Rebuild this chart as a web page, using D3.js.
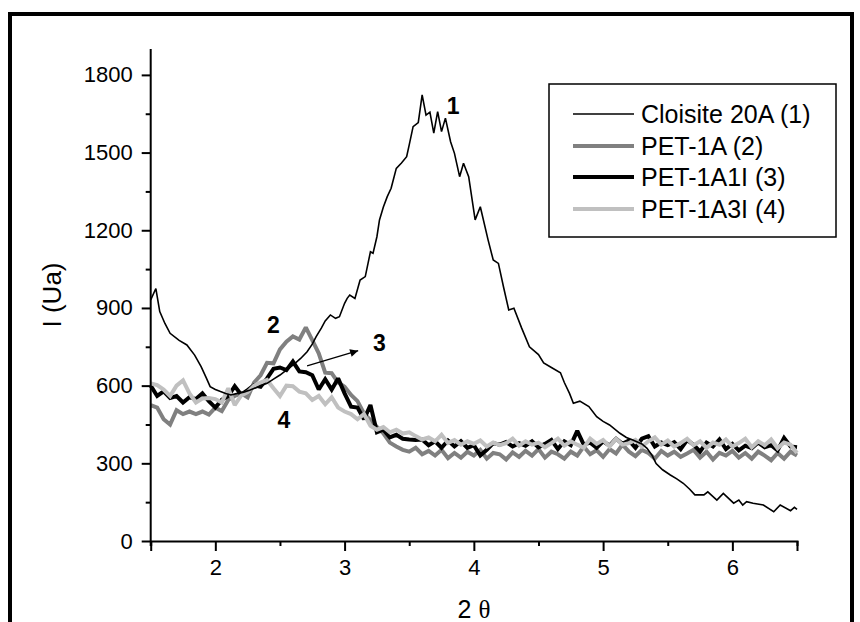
<!DOCTYPE html>
<html>
<head>
<meta charset="utf-8">
<script src="https://cdn.jsdelivr.net/npm/d3@7"></script>
<style>
  html, body { margin: 0; padding: 0; background: #fff; }
  svg { display: block; }
  text { font-family: "Liberation Sans", Arial, sans-serif; fill: #000; }
</style>
</head>
<body>
<svg id="chart" width="860" height="622"></svg>
<script>
// ---------- DATA ----------
const seriesNames = ["Cloisite 20A (1)", "PET-1A (2)", "PET-1A1I (3)", "PET-1A3I (4)"];

// Cloisite 20A (1)
const cloisiteTheta = [1.50,1.54,1.57,1.61,1.65,1.72,1.78,1.84,1.89,1.93,1.96,2.00,2.04,2.08,2.12,2.17,2.22,2.27,2.33,2.40,2.45,2.50,2.55,2.61,2.66,2.71,2.75,2.78,2.82,2.85,2.89,2.93,2.96,3.00,3.02,3.04,3.08,3.12,3.16,3.20,3.22,3.25,3.27,3.30,3.33,3.36,3.40,3.44,3.48,3.50,3.53,3.57,3.60,3.63,3.66,3.69,3.72,3.75,3.78,3.82,3.85,3.89,3.92,3.96,4.01,4.05,4.11,4.15,4.19,4.23,4.27,4.31,4.37,4.43,4.50,4.54,4.60,4.67,4.70,4.74,4.77,4.82,4.89,4.95,5.00,5.05,5.13,5.18,5.23,5.30,5.34,5.38,5.41,5.46,5.52,5.57,5.62,5.67,5.71,5.78,5.81,5.88,5.93,6.01,6.05,6.08,6.11,6.16,6.24,6.32,6.37,6.45,6.48,6.50];
const cloisiteI = [931,975,886,840,802,775,757,718,673,630,596,585,577,570,564,570,575,583,595,609,625,641,660,683,705,731,760,789,822,850,873,860,866,918,937,950,937,1008,1021,1117,1111,1175,1240,1290,1330,1362,1439,1460,1484,1530,1600,1616,1723,1645,1656,1575,1658,1581,1633,1542,1497,1407,1459,1407,1240,1291,1163,1085,1072,980,892,899,822,750,720,688,670,650,612,570,532,540,519,480,462,448,416,400,390,375,358,330,299,275,255,240,223,200,178,178,190,158,184,146,158,139,152,146,139,113,139,117,130,122];

// common 2θ grid for the PET samples
const petTheta = [1.50,1.55,1.60,1.65,1.70,1.75,1.80,1.85,1.90,1.95,2.00,2.05,2.10,2.15,2.20,2.25,2.30,2.35,2.40,2.45,2.50,2.55,2.60,2.65,2.70,2.75,2.80,2.85,2.90,2.95,3.00,3.05,3.10,3.15,3.20,3.25,3.30,3.35,3.40,3.45,3.50,3.55,3.60,3.65,3.70,3.75,3.80,3.85,3.90,3.95,4.00,4.05,4.10,4.15,4.20,4.25,4.30,4.35,4.40,4.45,4.50,4.55,4.60,4.65,4.70,4.75,4.80,4.85,4.90,4.95,5.00,5.05,5.10,5.15,5.20,5.25,5.30,5.35,5.40,5.45,5.50,5.55,5.60,5.65,5.70,5.75,5.80,5.85,5.90,5.95,6.00,6.05,6.10,6.15,6.20,6.25,6.30,6.35,6.40,6.45,6.50];

// PET-1A (2)
const pet1A = [525,515,470,450,505,490,500,490,500,488,515,502,545,560,570,555,612,640,688,686,740,770,790,778,825,776,725,650,648,612,596,564,540,493,467,441,416,380,365,352,345,360,335,348,330,352,320,340,322,345,330,352,318,340,335,315,342,325,348,330,355,322,345,335,318,345,330,365,335,350,325,355,338,372,345,328,352,340,318,348,330,345,325,338,352,322,345,315,340,330,348,322,340,318,345,330,312,340,318,345,330];

// PET-1A1I (3)
const pet1A1I = [600,560,578,552,560,535,555,548,570,540,515,545,560,598,565,583,602,596,628,665,670,660,693,655,652,640,585,625,585,628,570,519,515,470,525,420,430,400,410,395,392,390,392,370,385,360,388,365,385,360,370,330,352,378,372,382,365,378,368,385,362,375,390,355,385,370,425,372,380,360,385,368,395,375,388,360,395,405,365,380,370,382,355,390,372,345,380,365,392,355,375,350,368,358,380,362,370,350,398,365,362];

// PET-1A3I (4)
const pet1A3I = [609,602,585,560,600,620,570,535,550,552,548,535,590,525,562,575,600,612,622,590,560,600,598,577,570,545,560,528,555,515,500,490,470,490,445,430,440,420,430,415,420,405,392,400,385,410,378,390,372,385,375,388,365,380,370,378,395,368,385,372,380,362,378,395,368,385,372,360,395,375,390,365,395,372,378,390,365,385,400,372,388,365,378,395,370,385,360,380,372,392,365,378,395,362,385,370,392,358,380,372,340];

// axis ticks
const xTicks = [2, 3, 4, 5, 6];
const xMinorTicks = [1.5, 2.5, 3.5, 4.5, 5.5, 6.5];
const yTicks = [0, 300, 600, 900, 1200, 1500, 1800];
const yMinorTicks = [150, 450, 750, 1050, 1350, 1650];

// curve labels (data coordinates)
const curveLabels = ["1", "2", "3", "4"];
const curveLabelTheta = [3.84, 2.45, 3.27, 2.53];
const curveLabelI = [1650, 805, 732, 437];

// ---------- CHART ----------
const svg = d3.select("#chart");
const colors = ["#000000", "#808080", "#000000", "#c0c0c0"];
const widths = [1.6, 4, 4, 4];

const x = d3.scaleLinear().domain([1.5, 6.5]).range([150.7, 797]);
const y = d3.scaleLinear().domain([0, 1900]).range([541, 49]);

// outer frame
svg.append("rect")
  .attr("x", 10).attr("y", 14).attr("width", 842).attr("height", 650)
  .attr("fill", "none").attr("stroke", "#000").attr("stroke-width", 4);

// series
const line = d3.line().x(d => x(d[0])).y(d => y(d[1]));
const zip = (xs, ys) => xs.map((v, i) => [v, ys[i]]);
const series = [
  zip(cloisiteTheta, cloisiteI),
  zip(petTheta, pet1A),
  zip(petTheta, pet1A1I),
  zip(petTheta, pet1A3I)
];
const drawOrder = [1, 2, 3, 0];
drawOrder.forEach(i => {
  svg.append("path")
    .datum(series[i])
    .attr("d", line)
    .attr("fill", "none")
    .attr("stroke", colors[i])
    .attr("stroke-width", widths[i])
    .attr("stroke-linejoin", "miter")
    .attr("stroke-miterlimit", 2);
});

// x axis
const gx = svg.append("g").attr("transform", `translate(0,${y(0)})`);
gx.call(d3.axisBottom(x).tickValues(xTicks).tickSize(10).tickPadding(8).tickFormat(d3.format("d")));
gx.append("g").call(d3.axisBottom(x).tickValues(xMinorTicks).tickSize(5).tickFormat(""))
  .select(".domain").remove();
gx.selectAll(".domain").attr("stroke-width", 2);
gx.selectAll("line").attr("stroke-width", 2);
gx.selectAll("text").style("font-size", "22px").style("font-family", "'Liberation Sans', Arial, sans-serif");

// y axis
const gy = svg.append("g").attr("transform", `translate(${x(1.5)},0)`);
gy.call(d3.axisLeft(y).tickValues(yTicks).tickSize(9).tickPadding(9).tickFormat(d3.format("d")));
gy.append("g").call(d3.axisLeft(y).tickValues(yMinorTicks).tickSize(5).tickFormat(""))
  .select(".domain").remove();
gy.selectAll(".domain").attr("stroke-width", 2).attr("d", `M0,${y(1900)}V${y(0)+5}`);
gy.selectAll("line").attr("stroke-width", 2);
gy.selectAll("text").style("font-size", "22px").style("font-family", "'Liberation Sans', Arial, sans-serif");

// axis titles
const xt = svg.append("text")
  .attr("x", 474).attr("y", 618)
  .attr("text-anchor", "middle")
  .style("font-size", "25px");
xt.append("tspan").text("2 ");
xt.append("tspan").style("font-family", "'Liberation Serif', 'Times New Roman', serif").text("θ");

svg.append("text")
  .attr("transform", "translate(52,295) rotate(-90)")
  .attr("text-anchor", "middle")
  .attr("dominant-baseline", "central")
  .style("font-size", "26px")
  .text("I (Ua)");

// curve labels
svg.selectAll(".clabel")
  .data(curveLabels)
  .enter().append("text")
  .attr("class", "clabel")
  .attr("x", (d, i) => x(curveLabelTheta[i]))
  .attr("y", (d, i) => y(curveLabelI[i]))
  .attr("text-anchor", "middle")
  .style("font-size", "23px")
  .style("font-weight", "bold")
  .text(d => d);

// arrow for label 3
const defs = svg.append("defs");
defs.append("marker")
  .attr("id", "arrow").attr("viewBox", "0 0 10 10")
  .attr("refX", 10).attr("refY", 5)
  .attr("markerWidth", 12).attr("markerHeight", 8)
  .attr("markerUnits", "userSpaceOnUse")
  .attr("orient", "auto")
  .append("path").attr("d", "M0,0L10,5L0,10Z").attr("fill", "#000");
svg.append("line")
  .attr("x1", x(2.71)).attr("y1", y(676))
  .attr("x2", x(3.105)).attr("y2", y(735))
  .attr("stroke", "#000").attr("stroke-width", 1.3)
  .attr("marker-end", "url(#arrow)");

// legend
const lg = svg.append("g");
lg.append("rect")
  .attr("x", 549).attr("y", 84).attr("width", 287).attr("height", 153)
  .attr("fill", "#fff").attr("stroke", "#000").attr("stroke-width", 1.5);
const rowY = [114, 146, 177, 209];
seriesNames.forEach((name, i) => {
  lg.append("line")
    .attr("x1", 573).attr("x2", 634)
    .attr("y1", rowY[i]).attr("y2", rowY[i])
    .attr("stroke", colors[i]).attr("stroke-width", widths[i]);
  lg.append("text")
    .attr("x", 641).attr("y", rowY[i] + 9)
    .style("font-size", "25px")
    .text(name);
});
</script>
</body>
</html>
